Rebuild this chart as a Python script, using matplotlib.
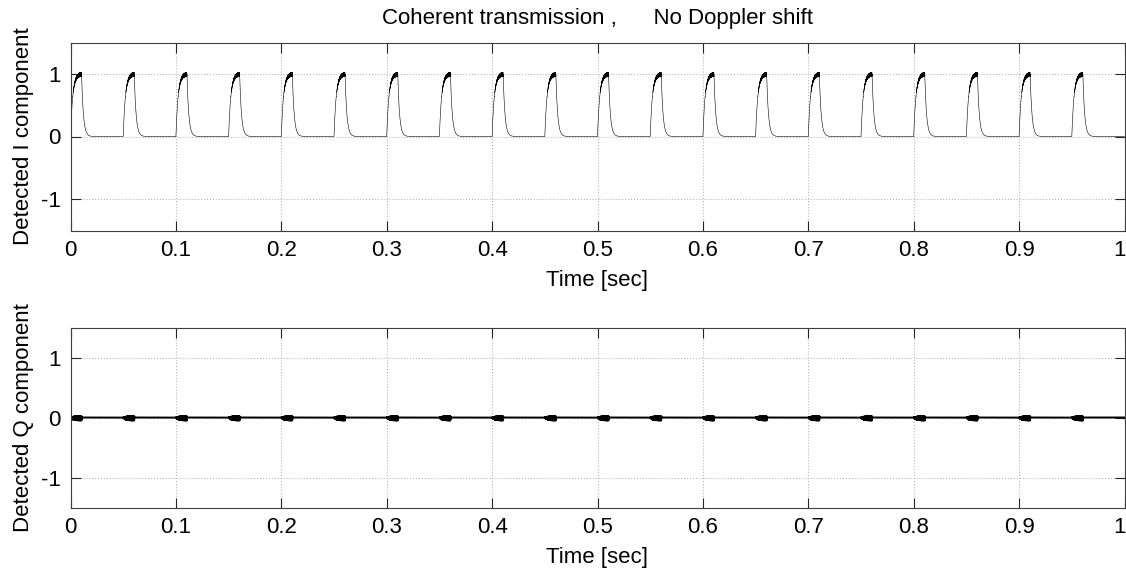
import numpy as np
import matplotlib
matplotlib.use("Agg")
import matplotlib.pyplot as plt
from matplotlib.transforms import ScaledTranslation

plt.rcParams['font.family'] = ['Liberation Sans', 'DejaVu Sans']
plt.rcParams['axes.unicode_minus'] = False

# ---- data ----
pulse_starts = [0.00, 0.05, 0.10, 0.15, 0.20, 0.25, 0.30, 0.35, 0.40, 0.45,
                0.50, 0.55, 0.60, 0.65, 0.70, 0.75, 0.80, 0.85, 0.90, 0.95]
pulse_width = 0.0105      # s
tau_rise = 0.0021         # s
tau_fall = 0.0017         # s
ripple_I = 0.035          # ripple amplitude on I at the top of a pulse
ripple_Q = 0.032          # ripple amplitude on Q during a pulse
ripple_freq = 4000.0      # Hz
x_ticks = [0, 0.1, 0.2, 0.3, 0.4, 0.5, 0.6, 0.7, 0.8, 0.9, 1]
x_tick_labels = ['0', '0.1', '0.2', '0.3', '0.4', '0.5', '0.6', '0.7', '0.8', '0.9', '1']
y_ticks = [-1, 0, 1]
title_text = 'Coherent transmission ,      No Doppler shift'
xlabel_text = 'Time [sec]'
ylabel_I = 'Detected I component'
ylabel_Q = 'Detected Q component'

# ---- build the detected envelope ----
t = np.linspace(0, 1, 200001)
env = np.zeros_like(t)
gate = np.zeros_like(t)
peak = 1 - np.exp(-pulse_width / tau_rise)
for s in pulse_starts:
    on = (t >= s) & (t < s + pulse_width)
    env[on] = 1 - np.exp(-(t[on] - s) / tau_rise)
    gate[on] = 1.0
    off = (t >= s + pulse_width) & (t < s + 0.05)
    env[off] = peak * np.exp(-(t[off] - s - pulse_width) / tau_fall)

osc = np.sin(2 * np.pi * ripple_freq * t)
I_sig = env + ripple_I * gate * env ** 3 * osc
Q_sig = gate * (ripple_Q * env * np.cos(2 * np.pi * ripple_freq * t) - 0.015 * env)

W, H = 1126, 570
fig = plt.figure(figsize=(W / 100, H / 100), dpi=100)
ax1 = fig.add_axes([70.5 / W, 1 - 230.5 / H, 1054 / W, 188 / H])
ax2 = fig.add_axes([70.5 / W, 1 - 507.5 / H, 1054 / W, 180 / H])

ax1.plot(t, I_sig, color='black', lw=0.4)
ax2.plot(t, Q_sig, color='black', lw=1.4)

for ax in (ax1, ax2):
    ax.set_xlim(0, 1)
    ax.set_ylim(-1.5, 1.5)
    ax.set_xticks(x_ticks)
    ax.set_xticklabels(x_tick_labels)
    ax.set_yticks(y_ticks)
    ax.grid(True, linestyle=':', color='#b8b8b8', linewidth=0.8)
    ax.tick_params(direction='in', length=7, width=0.8, colors='#262626',
                   labelcolor='black', labelsize=16, top=True, right=True, pad=7)
    for sp in ax.spines.values():
        sp.set_color('#404040')
        sp.set_linewidth(0.8)
    ax.set_xlabel(xlabel_text, fontsize=16, labelpad=6)
    last = ax.get_xticklabels()[-1]
    last.set_horizontalalignment('right')
    last.set_transform(last.get_transform() + ScaledTranslation(1.5 / 100, 0, fig.dpi_scale_trans))

ax1.set_ylabel(ylabel_I, fontsize=16, labelpad=5)
ax2.set_ylabel(ylabel_Q, fontsize=16, labelpad=5)
ax1.set_title(title_text, fontsize=16, pad=13)

fig.savefig('out.png', dpi=100)
